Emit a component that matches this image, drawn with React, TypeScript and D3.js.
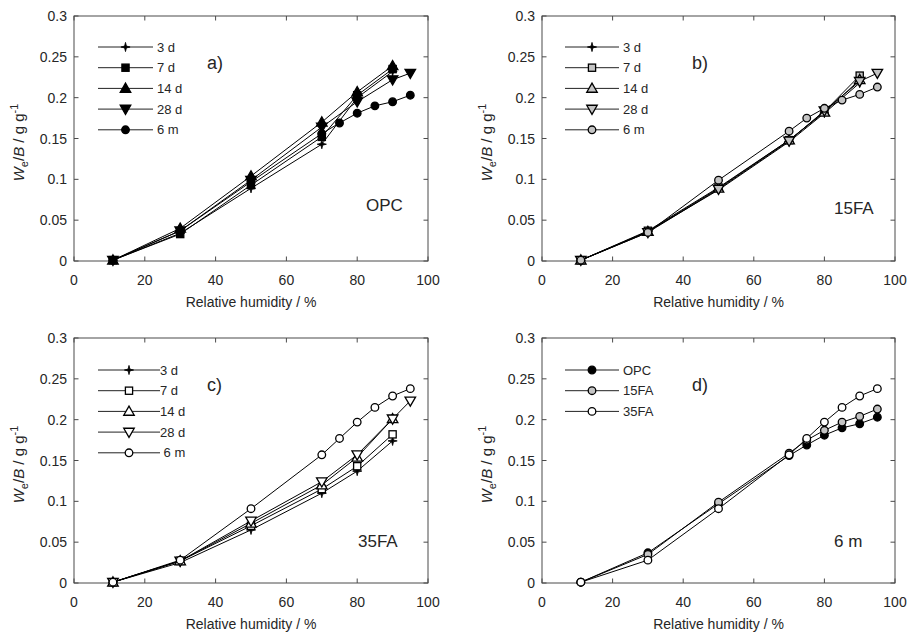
import React from 'react';
import * as d3 from 'd3';

// ---------- data ----------
const rhAge = [11, 30, 50, 70, 80, 90];
const rh28 = [11, 30, 50, 70, 80, 90, 95];
const rh6m = [11, 30, 50, 70, 75, 80, 85, 90, 95];

const opc3d = [0.001, 0.034, 0.089, 0.143, 0.200, 0.232];
const opc7d = [0.001, 0.033, 0.093, 0.152, 0.203, 0.235];
const opc14d = [0.001, 0.040, 0.104, 0.170, 0.207, 0.239];
const opc28d = [0.001, 0.037, 0.099, 0.164, 0.195, 0.222, 0.230];
const opc6m = [0.001, 0.037, 0.097, 0.156, 0.169, 0.181, 0.190, 0.195, 0.203];

const fa15_3d = [0.001, 0.036, 0.087, 0.146, 0.181, 0.218];
const fa15_7d = [0.001, 0.037, 0.090, 0.148, 0.183, 0.227];
const fa15_14d = [0.001, 0.036, 0.089, 0.148, 0.182, 0.222];
const fa15_28d = [0.001, 0.035, 0.088, 0.147, 0.184, 0.220, 0.230];
const fa15_6m = [0.001, 0.035, 0.099, 0.159, 0.175, 0.187, 0.197, 0.204, 0.213];

const fa35_3d = [0.001, 0.025, 0.065, 0.110, 0.137, 0.174];
const fa35_7d = [0.001, 0.027, 0.070, 0.115, 0.143, 0.182];
const fa35_14d = [0.001, 0.027, 0.073, 0.120, 0.154, 0.201];
const fa35_28d = [0.001, 0.027, 0.076, 0.124, 0.157, 0.201, 0.223];
const fa35_6m = [0.001, 0.028, 0.091, 0.157, 0.177, 0.197, 0.215, 0.229, 0.238];

const ageLabels = ['3 d', '7 d', '14 d', '28 d', '6 m'];
const ageLabelsC = ['3 d', '7 d', '14 d', '28 d', '\u00a06 m'];
const mixLabels = ['OPC', '15FA', '35FA'];
const xTicks = [0, 20, 40, 60, 80, 100];
const yTicks = [0, 0.05, 0.1, 0.15, 0.2, 0.25, 0.3];
const yTickLabels = ['0', '0.05', '0.1', '0.15', '0.2', '0.25', '0.3'];
const panelLetters = ['a)', 'b)', 'c)', 'd)'];
const panelNames = ['OPC', '15FA', '35FA', '6 m'];
const xTitle = 'Relative humidity / %';

// ---------- styling ----------
const FONT = '"Liberation Sans", Arial, Helvetica, sans-serif';
const TXT = '#262626';
const AX = '#4a4a4a';
const GREY = '#c4c4c4';

type Kind = 'star' | 'square' | 'up' | 'down' | 'circle';
type Series = { x: number[]; y: number[]; kind: Kind; fill: string };

function Marker({ kind, fill, cx, cy }: { kind: Kind; fill: string; cx: number; cy: number }) {
  const sw = 1.3;
  if (kind === 'star') {
    const R = 4.6, r = 1.3;
    const pts: string[] = [];
    for (let i = 0; i < 8; i++) {
      const a = (Math.PI / 4) * i - Math.PI / 2;
      const rr = i % 2 === 0 ? R : r;
      pts.push(`${cx + rr * Math.cos(a)},${cy + rr * Math.sin(a)}`);
    }
    return <polygon points={pts.join(' ')} fill="#000" stroke="#000" strokeWidth={0.8} />;
  }
  if (kind === 'circle') return <circle cx={cx} cy={cy} r={3.8} fill={fill} stroke="#000" strokeWidth={sw} />;
  if (kind === 'square') return <rect x={cx - 3.6} y={cy - 3.6} width={7.2} height={7.2} fill={fill} stroke="#000" strokeWidth={sw} />;
  const p = d3.symbol(d3.symbolTriangle, 48)() as string;
  return (
    <path d={p} transform={`translate(${cx},${cy + (kind === 'up' ? 0.8 : -0.8)}) rotate(${kind === 'down' ? 180 : 0})`}
      fill={fill} stroke="#000" strokeWidth={sw} />
  );
}

type PanelProps = {
  left: number; top: number; w: number; h: number;
  series: Series[]; labels: string[];
  legendLine: [number, number]; legendText: number; legendY: number;
  letter: string; letterPos: [number, number];
  name: string; namePos: [number, number];
};

function Panel(p: PanelProps) {
  const x = d3.scaleLinear().domain([0, 100]).range([p.left, p.left + p.w]);
  const y = d3.scaleLinear().domain([0, 0.3]).range([p.top + p.h, p.top]);
  const line = d3.line<[number, number]>().x(d => x(d[0])).y(d => y(d[1]));
  const tl = 4.5;
  return (
    <g fontFamily={FONT}>
      {xTicks.map(t => (
        <g key={'x' + t}>
          <line x1={x(t)} x2={x(t)} y1={p.top + p.h} y2={p.top + p.h - tl} stroke={AX} />
          <line x1={x(t)} x2={x(t)} y1={p.top} y2={p.top + tl} stroke={AX} />
          <text x={x(t)} y={p.top + p.h + 24} textAnchor="middle" fontSize={14} fill={TXT}>{t}</text>
        </g>
      ))}
      {yTicks.map((t, i) => (
        <g key={'y' + t}>
          <line x1={p.left} x2={p.left + tl} y1={y(t)} y2={y(t)} stroke={AX} />
          <line x1={p.left + p.w} x2={p.left + p.w - tl} y1={y(t)} y2={y(t)} stroke={AX} />
          <text x={p.left - 7} y={y(t) + 5} textAnchor="end" fontSize={14} fill={TXT}>{yTickLabels[i]}</text>
        </g>
      ))}
      <rect x={p.left} y={p.top} width={p.w} height={p.h} fill="none" stroke={AX} strokeWidth={1} />
      <text x={p.left + p.w / 2} y={p.top + p.h + 46} textAnchor="middle" fontSize={14} fill={TXT}>{xTitle}</text>
      <text transform={`translate(${p.left - 50},${p.top + p.h / 2 + 4}) rotate(-90)`} textAnchor="middle" fontSize={15} fill={TXT}>
        <tspan fontStyle="italic">W</tspan>
        <tspan fontSize={11} dy={4}>e</tspan>
        <tspan dy={-4}>/</tspan>
        <tspan fontStyle="italic">B</tspan>
        <tspan> / g g</tspan>
        <tspan fontSize={11} dy={-6}>-1</tspan>
      </text>
      {p.series.map((s, si) => {
        const pts = s.x.map((v, i) => [v, s.y[i]] as [number, number]);
        return (
          <g key={'s' + si}>
            <path d={line(pts) as string} fill="none" stroke="#000" strokeWidth={1} />
            {pts.map((d, i) => <Marker key={i} kind={s.kind} fill={s.fill} cx={x(d[0])} cy={y(d[1])} />)}
          </g>
        );
      })}
      {p.series.map((s, si) => {
        const ly = p.legendY + si * 20.7;
        const mx = (p.legendLine[0] + p.legendLine[1]) / 2;
        return (
          <g key={'l' + si}>
            <line x1={p.legendLine[0]} x2={p.legendLine[1]} y1={ly} y2={ly} stroke="#222" strokeWidth={1} />
            <Marker kind={s.kind} fill={s.fill} cx={mx} cy={ly} />
            <text x={p.legendText} y={ly + 4.5} fontSize={13} fill={TXT} style={{ whiteSpace: 'pre' }}>{p.labels[si]}</text>
          </g>
        );
      })}
      <text x={p.letterPos[0]} y={p.letterPos[1]} fontSize={18} fill={TXT}>{p.letter}</text>
      <text x={p.namePos[0]} y={p.namePos[1]} fontSize={17} fill={TXT}>{p.name}</text>
    </g>
  );
}

const ageKinds: Kind[] = ['star', 'square', 'up', 'down', 'circle'];

function ageSeries(ys: number[][], fill: string): Series[] {
  const xs = [rhAge, rhAge, rhAge, rh28, rh6m];
  return ys.map((yv, i) => ({ x: xs[i], y: yv, kind: ageKinds[i], fill: ageKinds[i] === 'star' ? '#000' : fill }));
}

export default function App() {
  const sa = ageSeries([opc3d, opc7d, opc14d, opc28d, opc6m], '#000');
  const sb = ageSeries([fa15_3d, fa15_7d, fa15_14d, fa15_28d, fa15_6m], GREY);
  const sc = ageSeries([fa35_3d, fa35_7d, fa35_14d, fa35_28d, fa35_6m], '#fff');
  const sd: Series[] = [
    { x: rh6m, y: opc6m, kind: 'circle', fill: '#000' },
    { x: rh6m, y: fa15_6m, kind: 'circle', fill: GREY },
    { x: rh6m, y: fa35_6m, kind: 'circle', fill: '#fff' },
  ];
  return (
    <svg width={908} height={635} style={{ position: 'absolute', left: 0, top: 0, background: '#fff' }}>
      <rect width={908} height={635} fill="#fff" />
      <Panel left={74} top={16} w={354} h={245} series={sa} labels={ageLabels}
        legendLine={[98, 153]} legendText={157} legendY={47}
        letter={panelLetters[0]} letterPos={[207, 69]} name={panelNames[0]} namePos={[366, 211]} />
      <Panel left={542} top={16} w={353} h={245} series={sb} labels={ageLabels}
        legendLine={[565, 619]} legendText={623} legendY={47}
        letter={panelLetters[1]} letterPos={[692, 69]} name={panelNames[1]} namePos={[834, 214]} />
      <Panel left={74} top={338} w={354} h={245} series={sc} labels={ageLabelsC}
        legendLine={[98, 160]} legendText={160} legendY={370}
        letter={panelLetters[2]} letterPos={[207, 391]} name={panelNames[2]} namePos={[358, 547]} />
      <Panel left={542} top={338} w={353} h={245} series={sd} labels={mixLabels}
        legendLine={[565, 619]} legendText={623} legendY={370}
        letter={panelLetters[3]} letterPos={[692, 391]} name={panelNames[3]} namePos={[834, 547]} />
    </svg>
  );
}
